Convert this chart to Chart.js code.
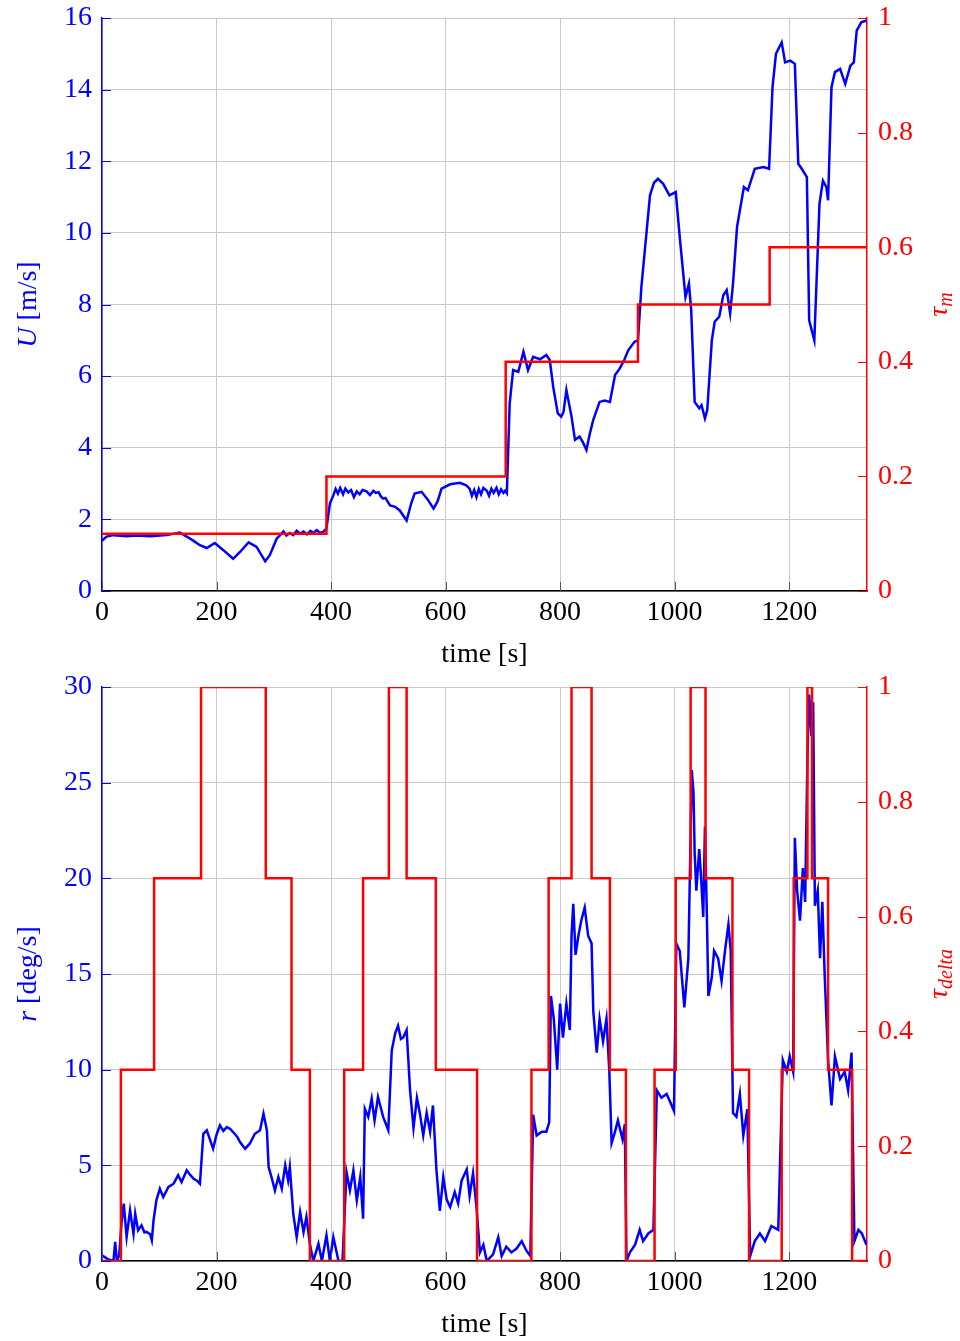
<!DOCTYPE html>
<html>
<head>
<meta charset="utf-8">
<script src="https://cdn.jsdelivr.net/npm/chart.js@4"></script>
<style>
  html, body { margin: 0; padding: 0; background: #fff; }
  #wrap { position: relative; width: 960px; height: 1341px; }
  #top { position: absolute; left: 0; top: 0; }
  #bottom { position: absolute; left: 0; top: 672px; }
</style>
</head>
<body>
<div id="wrap">
  <canvas id="top" width="960" height="672"></canvas>
  <canvas id="bottom" width="960" height="669"></canvas>
</div>
<script>
// x axis
const T_MAX = 1336;
const X_TICKS = [0, 200, 400, 600, 800, 1000, 1200];

// top panel: speed U [m/s]
const U_TIME = [
  0, 3, 8, 20, 43, 60, 84, 113, 136, 148,
  160, 171, 183, 197, 212, 229, 241, 256, 270, 285,
  293, 305, 317, 322, 328, 334, 340, 346, 352, 358,
  364, 369, 375, 381, 387, 392, 398, 404, 408, 412,
  416, 421, 425, 430, 435, 440, 445, 450, 455, 462,
  468, 474, 478, 483, 487, 491, 495, 503, 512, 520,
  532, 540, 546, 558, 569, 579, 586, 593, 608, 625,
  636, 642, 646, 650, 654, 658, 662, 666, 672, 676,
  680, 684, 689, 693, 697, 701, 704, 707, 712, 718,
  727, 736, 744, 753, 765, 776, 782, 788, 796, 802,
  806, 811, 820, 826, 834, 840, 846, 852, 858, 869,
  878, 887, 896, 904, 912, 919, 930, 936, 942, 948,
  957, 964, 971, 980, 991, 1002, 1009, 1019, 1025, 1029,
  1035, 1043, 1047, 1053, 1057, 1065, 1070, 1078, 1085, 1091,
  1097, 1102, 1109, 1121, 1128, 1140, 1155, 1165, 1171, 1177,
  1187, 1193, 1202, 1210, 1216, 1222, 1231, 1235, 1244, 1253,
  1259, 1265, 1268, 1274, 1280, 1289, 1298, 1307, 1313, 1318,
  1326, 1335
];
const U_VALUES = [
  1.40, 1.45, 1.52, 1.56, 1.53, 1.55, 1.53, 1.56, 1.63, 1.52,
  1.40, 1.28, 1.20, 1.34, 1.14, 0.90, 1.09, 1.36, 1.23, 0.83,
  1.00, 1.46, 1.66, 1.55, 1.62, 1.56, 1.68, 1.60, 1.66, 1.58,
  1.68, 1.62, 1.70, 1.62, 1.66, 1.75, 2.44, 2.67, 2.85, 2.72,
  2.88, 2.70, 2.86, 2.75, 2.82, 2.62, 2.78, 2.70, 2.82, 2.78,
  2.68, 2.80, 2.74, 2.76, 2.64, 2.58, 2.60, 2.39, 2.35, 2.25,
  1.97, 2.45, 2.72, 2.77, 2.55, 2.30, 2.50, 2.86, 2.98, 3.02,
  2.95, 2.86, 2.66, 2.82, 2.62, 2.85, 2.70, 2.88, 2.80, 2.66,
  2.86, 2.74, 2.88, 2.70, 2.84, 2.74, 2.80, 2.73, 5.24, 6.17,
  6.12, 6.68, 6.17, 6.54, 6.47, 6.59, 6.45, 5.70, 4.96, 4.87,
  5.00, 5.61, 4.87, 4.22, 4.31, 4.15, 3.94, 4.40, 4.78, 5.28,
  5.32, 5.28, 6.03, 6.21, 6.45, 6.72, 6.96, 7.00, 8.49, 9.51,
  11.05, 11.40, 11.51, 11.37, 11.05, 11.14, 9.88, 8.21, 8.58, 7.84,
  5.28, 5.10, 5.19, 4.82, 5.05, 7.00, 7.52, 7.66, 8.26, 8.40,
  7.75, 8.58, 10.16, 11.28, 11.19, 11.79, 11.84, 11.79, 14.07, 15.00,
  15.32, 14.76, 14.81, 14.72, 11.93, 11.79, 11.56, 7.56, 7.00, 10.81,
  11.46, 11.28, 10.91, 14.07, 14.49, 14.58, 14.16, 14.67, 14.76, 15.65,
  15.88, 15.93
];
const U_TICKS = [0, 2, 4, 6, 8, 10, 12, 14, 16];

// top panel: tau_m steps
const TAU_M_TIME = [0, 392, 705, 936, 1166, 1336];
const TAU_M_VALUES = [0.1, 0.2, 0.4, 0.5, 0.6, 0.6];

// bottom panel: yaw rate r [deg/s]
const R_TIME = [
  0, 10, 20, 23, 26, 30, 34, 38, 43, 49,
  55, 58, 63, 69, 74, 78, 84, 87, 90, 95,
  101, 107, 116, 125, 133, 139, 148, 154, 160, 166,
  171, 177, 183, 194, 200, 206, 212, 218, 224, 229,
  236, 241, 250, 258, 267, 276, 282, 288, 291, 296,
  302, 308, 314, 320, 325, 328, 334, 340, 346, 352,
  357, 363, 369, 378, 384, 392, 398, 404, 413, 420,
  427, 433, 439, 445, 451, 456, 459, 465, 471, 476,
  482, 491, 500, 506, 512, 517, 522, 526, 532, 538,
  544, 550, 555, 561, 567, 573, 578, 584, 590, 596,
  602, 608, 616, 622, 628, 637, 642, 648, 654, 660,
  666, 672, 683, 692, 698, 706, 715, 724, 733, 741,
  748, 753, 759, 768, 776, 781, 784, 789, 795, 800,
  805, 811, 817, 820, 823, 827, 832, 837, 843, 849,
  855, 858, 864, 869, 875, 881, 886, 890, 896, 901,
  909, 913, 916, 922, 931, 939, 945, 954, 963, 969,
  977, 986, 992, 999, 1003, 1009, 1017, 1024, 1030, 1033,
  1035, 1038, 1043, 1046, 1050, 1053, 1056, 1059, 1065, 1069,
  1076, 1082, 1088, 1094, 1098, 1102, 1108, 1114, 1120, 1127,
  1132, 1140, 1149, 1158, 1169, 1181, 1189, 1196, 1201, 1207,
  1210, 1214, 1219, 1224, 1228, 1232, 1235, 1239, 1242, 1245,
  1250, 1254, 1258, 1262, 1268, 1274, 1280, 1289, 1297, 1303,
  1309, 1314, 1321, 1327, 1335
];
const R_VALUES = [
  0.3, 0.1, 0.0, 1.0, 0.0, 0.3, 1.95, 3.0, 1.25, 2.65,
  1.43, 2.47, 1.6, 1.86, 1.5, 1.52, 1.4, 1.08, 2.12, 3.17,
  3.78, 3.34, 3.87, 4.04, 4.48, 4.13, 4.74, 4.5, 4.3, 4.2,
  4.04, 6.65, 6.83, 5.87, 6.6, 7.09, 6.8, 7.0, 6.9, 6.74,
  6.5, 6.22, 5.87, 6.13, 6.65, 6.83, 7.7, 6.83, 4.91, 4.39,
  3.69, 4.39, 3.78, 5.0, 4.22, 4.91, 2.47, 1.25, 2.56, 1.52,
  2.3, 0.9, 0, 0.9, 0, 1.34, 0, 1.25, 0, 0,
  4.65, 3.69, 4.74, 3.17, 4.39, 2.21, 7.96, 7.53, 8.48, 7.35,
  8.57, 7.53, 6.83, 11.0, 11.9, 12.3, 11.6, 11.68, 12.07, 8.92,
  6.95, 8.53, 7.74, 6.56, 7.74, 6.76, 8.13, 4.79, 2.62, 4.39,
  3.21, 2.82, 3.6, 3.01, 4.2, 4.79, 3.41, 4.59, 2.82, 0.45,
  0.85, 0, 0.35, 1.24, 0.26, 0.75, 0.45, 0.65, 1.04, 0.55,
  0.26, 7.64, 6.56, 6.76, 6.76, 7.25, 13.85, 12.66, 10.0, 13.45,
  11.68, 13.45, 12.07, 17.0, 18.67, 16.0, 17.0, 17.8, 18.47, 17.0,
  16.6, 13.06, 10.89, 12.66, 11.48, 12.66, 9.9, 6.16, 6.76, 7.35,
  6.36, 7.15, 0, 0.45, 0.85, 1.63, 1.04, 1.44, 1.63, 8.92,
  8.53, 8.73, 8.33, 7.84, 16.6, 16.2, 13.26, 15.8, 25.66, 24.48,
  21.33, 19.36, 21.53, 20.15, 17.98, 22.71, 18.57, 13.85, 14.83, 16.21,
  15.82, 14.63, 16.21, 17.59, 16.21, 7.74, 7.54, 8.73, 6.56, 7.94,
  0.26, 1.04, 1.44, 1.04, 1.83, 1.63, 10.5, 9.9, 10.7, 9.9,
  22.12, 19.36, 17.79, 20.54, 18.77, 26.45, 29.6, 27.44, 29.2, 18.57,
  19.36, 15.82, 18.77, 15.03, 10.5, 8.13, 10.7, 9.51, 9.9, 8.92,
  10.89, 1.04, 1.63, 1.44, 0.85
];
const R_TICKS = [0, 5, 10, 15, 20, 25, 30];

// bottom panel: tau_delta steps (levels in thirds)
const TAU_D_TIME = [
  0, 33, 91, 173, 286, 331, 363, 423, 456, 501,
  532, 583, 655, 750, 780, 820, 855, 887, 915, 965,
  1002, 1028, 1054, 1101, 1130, 1187, 1208, 1232, 1240, 1268,
  1310, 1336
];
const TAU_D_THIRDS = [
  0, 1, 2, 3, 2, 1, 0, 1, 2, 3,
  2, 1, 0, 1, 2, 3, 2, 1, 0, 1,
  2, 3, 2, 1, 0, 1, 2, 3, 2, 1,
  0, 0
];
const TAU_TICKS = [0, 0.2, 0.4, 0.6, 0.8, 1];

const BLUE = '#0000ff';
const RED = '#ff0000';
const GRID = '#c9c9c9';
const FONT = '"Liberation Serif", "DejaVu Serif", serif';

Chart.defaults.font.family = FONT;
Chart.defaults.font.size = 28;
Chart.defaults.font.lineHeight = 1;

const zip = (xs, ys) => xs.map((x, i) => ({ x: x, y: ys[i] }));

// axis titles with italic / subscript pieces, plus inward tick marks
const axisDecor = {
  id: 'axisDecor',
  afterDraw(chart, args, opts) {
    const { ctx, chartArea: a, scales } = chart;
    ctx.save();
    ctx.lineWidth = 1;
    const len = 9;
    ctx.strokeStyle = BLUE;
    scales.y.ticks.forEach(t => {
      const py = Math.round(scales.y.getPixelForValue(t.value)) + 0.5;
      ctx.beginPath(); ctx.moveTo(a.left, py); ctx.lineTo(a.left + len, py); ctx.stroke();
    });
    ctx.strokeStyle = RED;
    scales.y1.ticks.forEach(t => {
      const py = Math.round(scales.y1.getPixelForValue(t.value)) + 0.5;
      ctx.beginPath(); ctx.moveTo(a.right, py); ctx.lineTo(a.right - len, py); ctx.stroke();
    });
    ctx.strokeStyle = '#555';
    scales.x.ticks.forEach(t => {
      const px = Math.round(scales.x.getPixelForValue(t.value)) + 0.5;
      ctx.beginPath(); ctx.moveTo(px, a.bottom); ctx.lineTo(px, a.bottom - len); ctx.stroke();
    });
    ctx.restore();

    const midY = (a.top + a.bottom) / 2;
    drawTitle(ctx, opts.left, 29, midY, BLUE);
    drawTitle(ctx, opts.right, 940, midY, RED);
  }
};

function pieceFont(p) {
  const size = p.sub ? 20 : 28;
  return (p.italic ? 'italic ' : '') + size + 'px ' + FONT;
}

function drawTitle(ctx, pieces, x, y, color) {
  ctx.save();
  ctx.translate(x, y);
  ctx.rotate(-Math.PI / 2);
  ctx.fillStyle = color;
  ctx.textBaseline = 'middle';
  let total = 0;
  pieces.forEach(p => { ctx.font = pieceFont(p); total += ctx.measureText(p.text).width; });
  let cx = -total / 2;
  pieces.forEach(p => {
    ctx.font = pieceFont(p);
    ctx.fillText(p.text, cx, p.sub ? 7 : 0);
    cx += ctx.measureText(p.text).width;
  });
  ctx.restore();
}

function makeOptions(leftTicks, leftMax, xHeight, topPad, titlePad, titles) {
  return {
    responsive: false,
    animation: false,
    layout: { padding: { top: topPad, left: 0, right: 0, bottom: 0 } },
    plugins: {
      legend: { display: false },
      tooltip: { enabled: false },
      axisDecor: titles
    },
    scales: {
      x: {
        type: 'linear',
        min: 0,
        max: T_MAX,
        afterFit: s => { s.height = xHeight; },
        afterBuildTicks: s => { s.ticks = X_TICKS.map(v => ({ value: v })); },
        ticks: { color: '#000', padding: 8, maxRotation: 0, callback: v => String(v) },
        grid: { color: GRID, lineWidth: 1, drawTicks: false },
        border: { color: '#000', width: 1.5 },
        title: { display: true, text: 'time [s]', color: '#000', padding: { top: 0, bottom: titlePad } }
      },
      y: {
        position: 'left',
        min: 0,
        max: leftMax,
        afterFit: s => { s.width = 102; },
        afterBuildTicks: s => { s.ticks = leftTicks.map(v => ({ value: v })); },
        ticks: { color: BLUE, padding: 0, callback: v => String(v) },
        grid: { color: GRID, lineWidth: 1, drawTicks: true, tickLength: 10, tickColor: 'rgba(0,0,0,0)' },
        border: { color: BLUE, width: 1.5 }
      },
      y1: {
        position: 'right',
        min: 0,
        max: 1,
        afterFit: s => { s.width = 93; },
        afterBuildTicks: s => { s.ticks = TAU_TICKS.map(v => ({ value: v })); },
        ticks: { color: RED, padding: 0, callback: v => String(v) },
        grid: { drawOnChartArea: false, drawTicks: true, tickLength: 11, tickColor: 'rgba(0,0,0,0)' },
        border: { color: RED, width: 1.5 }
      }
    }
  };
}

new Chart(document.getElementById('top'), {
  type: 'line',
  data: {
    datasets: [
      {
        label: 'tau_m',
        data: zip(TAU_M_TIME, TAU_M_VALUES),
        yAxisID: 'y1',
        borderColor: RED,
        borderWidth: 2.5,
        pointRadius: 0,
        stepped: 'before'
      },
      {
        label: 'U',
        data: zip(U_TIME, U_VALUES),
        yAxisID: 'y',
        borderColor: BLUE,
        borderWidth: 2.5,
        pointRadius: 0,
        tension: 0
      }
    ]
  },
  options: makeOptions(U_TICKS, 16, 81, 18, 3, {
    left: [{ text: 'U', italic: true }, { text: ' [m/s]' }],
    right: [{ text: 'τ', italic: true }, { text: 'm', italic: true, sub: true }]
  }),
  plugins: [axisDecor]
});

new Chart(document.getElementById('bottom'), {
  type: 'line',
  data: {
    datasets: [
      {
        label: 'tau_delta',
        data: zip(TAU_D_TIME, TAU_D_THIRDS.map(k => k / 3)),
        yAxisID: 'y1',
        borderColor: RED,
        borderWidth: 2.5,
        pointRadius: 0,
        stepped: 'before'
      },
      {
        label: 'r',
        data: zip(R_TIME, R_VALUES),
        yAxisID: 'y',
        borderColor: BLUE,
        borderWidth: 2.5,
        pointRadius: 0,
        tension: 0
      }
    ]
  },
  options: makeOptions(R_TICKS, 30, 80, 15, 2, {
    left: [{ text: 'r', italic: true }, { text: ' [deg/s]' }],
    right: [{ text: 'τ', italic: true }, { text: 'delta', italic: true, sub: true }]
  }),
  plugins: [axisDecor]
});
</script>
</body>
</html>
